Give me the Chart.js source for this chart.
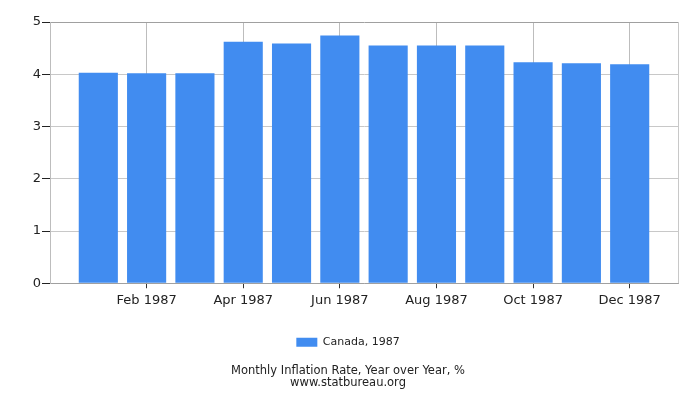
<!DOCTYPE html>
<html>
<head>
<meta charset="utf-8">
<script src="https://cdn.jsdelivr.net/npm/chart.js@4"></script>
<style>
  html, body { margin: 0; padding: 0; background: #fff; }
  #wrap { width: 700px; height: 400px; }
</style>
</head>
<body>
<div id="wrap"><canvas id="inflationChart"></canvas></div>
<script>
// data
const months = ['Jan 1987', 'Feb 1987', 'Mar 1987', 'Apr 1987', 'May 1987', 'Jun 1987',
                'Jul 1987', 'Aug 1987', 'Sep 1987', 'Oct 1987', 'Nov 1987', 'Dec 1987'];
const canada1987 = [4.03, 4.02, 4.02, 4.62, 4.59, 4.74, 4.55, 4.55, 4.55, 4.23, 4.21, 4.19];
const yTicks = [0, 1, 2, 3, 4, 5];

const font = 'DejaVu Sans';

// month index -> label, only every second month is written
const isLabelled = (v) => Number.isInteger(v) && v >= 0 && v < months.length && v % 2 === 1;

// right-hand frame line of the plot area
const frameRight = {
    id: 'frameRight',
    afterDraw(chart) {
        const a = chart.chartArea;
        const c = chart.ctx;
        c.save();
        c.strokeStyle = '#c8c8c8';
        c.lineWidth = 1;
        c.beginPath();
        c.moveTo(a.right + 0.5, a.top);
        c.lineTo(a.right + 0.5, a.bottom);
        c.stroke();
        c.restore();
    }
};

const ctx = document.getElementById('inflationChart').getContext('2d');

new Chart(ctx, {
    type: 'bar',
    data: {
        datasets: [{
            label: 'Canada, 1987',
            data: canada1987.map((v, i) => ({ x: i, y: v })),
            backgroundColor: '#418cf0',
            borderWidth: 0,
            categoryPercentage: 0.81,
            barPercentage: 1.0
        }]
    },
    options: {
        responsive: true,
        maintainAspectRatio: false,
        animation: false,
        layout: {
            padding: { top: 22, right: 22, left: 18, bottom: 11 }
        },
        scales: {
            x: {
                type: 'linear',
                min: -1,
                max: months.length,
                offset: false,
                afterBuildTicks: (axis) => {
                    const t = [];
                    for (let i = -1; i <= months.length; i++) t.push({ value: i });
                    axis.ticks = t;
                },
                grid: {
                    offset: false,
                    color: (c) => (c.tick && isLabelled(c.tick.value) ? '#bdbdbd' : 'rgba(0,0,0,0)'),
                    tickColor: (c) => (c.tick && isLabelled(c.tick.value) ? '#333' : 'rgba(0,0,0,0)'),
                    tickLength: 5
                },
                border: { color: '#a0a0a0' },
                ticks: {
                    autoSkip: false,
                    maxRotation: 0,
                    color: '#222',
                    font: { family: font, size: 13 },
                    padding: 5,
                    callback: (v) => (isLabelled(v) ? months[v] : '')
                }
            },
            y: {
                min: 0,
                max: 5,
                afterBuildTicks: (axis) => {
                    axis.ticks = yTicks.map(v => ({ value: v }));
                },
                afterFit: (axis) => {
                    axis.width = 32;
                },
                grid: {
                    color: (c) => (c.tick && c.tick.value === 5 ? '#a0a0a0' : '#c8c8c8'),
                    tickColor: '#222',
                    tickLength: 8
                },
                border: { color: '#bdbdbd' },
                ticks: {
                    color: '#222',
                    font: { family: font, size: 13 },
                    padding: 1
                }
            }
        },
        plugins: {
            legend: {
                position: 'bottom',
                labels: {
                    boxWidth: 21,
                    boxHeight: 9,
                    color: '#222',
                    font: { family: font, size: 11 },
                    padding: 23
                }
            },
            title: {
                display: true,
                position: 'bottom',
                text: ['Monthly Inflation Rate, Year over Year, %', 'www.statbureau.org'],
                color: '#222',
                font: { family: font, size: 11.5, weight: 'normal', lineHeight: 1.05 },
                padding: { top: 7, bottom: 0 }
            },
            tooltip: { enabled: false }
        }
    },
    plugins: [frameRight]
});
</script>
</body>
</html>
